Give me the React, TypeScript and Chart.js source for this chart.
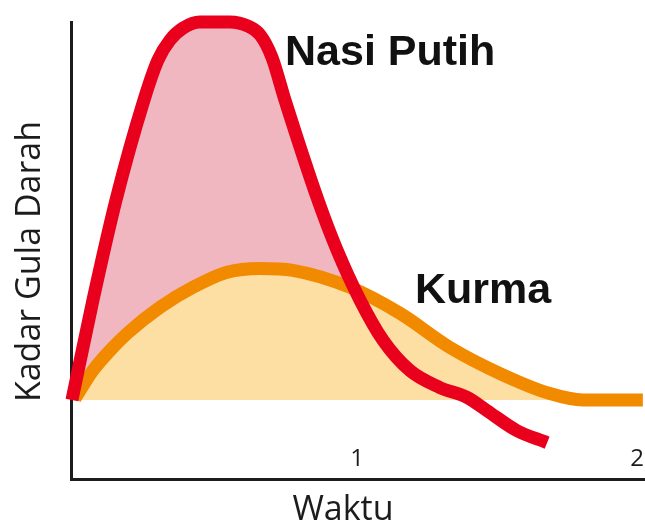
import React, { useEffect, useRef } from "react";
import { Chart, registerables } from "chart.js";

Chart.register(...registerables);

// Time values (hours) and blood sugar levels
const nasiPutihX = [-0.018, 0.057, 0.139, 0.239, 0.289, 0.332, 0.379, 0.439, 0.546, 0.611, 0.654, 0.696, 0.743, 0.861, 0.929, 1.011, 1.093, 1.189, 1.296, 1.393, 1.464, 1.571, 1.679];
const nasiPutihY = [0, 26.4, 52.8, 79.3, 89.9, 95.2, 98.4, 100, 100, 98.9, 96.6, 90.7, 79.3, 52.8, 39.6, 26.4, 15.8, 7.8, 3.3, 0.7, -2.8, -8.1, -11.3];

const kurmaX = [-0.007, 0.057, 0.118, 0.179, 0.296, 0.414, 0.536, 0.654, 0.771, 0.975, 1.154, 1.332, 1.511, 1.689, 1.807, 2.021];
const kurmaY = [0.4, 7.8, 13.1, 17.6, 24.5, 29.8, 33.8, 34.8, 34.3, 29.8, 22.9, 13.9, 7.0, 1.7, 0, 0];

const xTickValues = [1, 2];
const seriesNames = ["Nasi Putih", "Kurma"];
const labelAnchors = [
  { x: 0.743, y: 88.6 },
  { x: 1.207, y: 25.6 },
];
const yTitle = "Kadar Gula Darah";
const xTitle = "Waktu";

const RED = "#e9001c";
const PINK = "#f0b7c0";
const ORANGE = "#f28a00";
const LIGHT_ORANGE = "#fddea3";
const INK = "#1c1c1c";
const FONT = "'Open Sans', sans-serif";

const toPoints = (xs: number[], ys: number[]) => xs.map((x, i) => ({ x, y: ys[i] }));

export default function App() {
  const canvasRef = useRef<HTMLCanvasElement | null>(null);

  useEffect(() => {
    const canvas = canvasRef.current;
    if (!canvas) return;

    const annotations = {
      id: "annotations",
      afterDraw(chart: any) {
        const { ctx, scales, chartArea } = chart;
        const xs = scales.x;
        ctx.save();
        // tick labels, drawn inside the plot just above the x axis
        ctx.fillStyle = INK;
        ctx.font = `24px ${FONT}`;
        ctx.textAlign = "center";
        ctx.textBaseline = "alphabetic";
        xs.ticks.forEach((t: any) => {
          ctx.fillText(String(t.value), xs.getPixelForValue(t.value), xs.top - 13);
        });
        // x axis title
        ctx.font = `34px ${FONT}`;
        ctx.fillText(xTitle, xs.getPixelForValue(0.95), xs.top + 41);
        // y axis title
        ctx.save();
        ctx.translate(40, (chartArea.top + chartArea.bottom) / 2 + 11);
        ctx.rotate(-Math.PI / 2);
        ctx.font = `34px ${FONT}`;
        ctx.textAlign = "center";
        ctx.textBaseline = "alphabetic";
        ctx.fillText(yTitle, 0, 0);
        ctx.restore();
        // series names
        ctx.fillStyle = "#111111";
        ctx.font = "bold 43px 'Liberation Sans', Arial, sans-serif";
        ctx.textAlign = "left";
        ctx.textBaseline = "alphabetic";
        seriesNames.forEach((name, i) => {
          const a = labelAnchors[i];
          ctx.fillText(name, xs.getPixelForValue(a.x), scales.y.getPixelForValue(a.y));
        });
        ctx.restore();
      },
    };

    const chart = new Chart(canvas, {
      type: "line",
      data: {
        datasets: [
          {
            label: seriesNames[0],
            data: toPoints(nasiPutihX, nasiPutihY),
            borderColor: RED,
            borderWidth: 13,
            fill: false,
            pointRadius: 0,
            cubicInterpolationMode: "monotone",
            borderJoinStyle: "round",
            clip: false,
          } as any,
          {
            label: seriesNames[1],
            data: toPoints(kurmaX, kurmaY),
            borderColor: ORANGE,
            borderWidth: 13,
            fill: { target: { value: 0 }, above: LIGHT_ORANGE, below: "rgba(0,0,0,0)" },
            pointRadius: 0,
            cubicInterpolationMode: "monotone",
            borderJoinStyle: "round",
            clip: false,
          } as any,
          {
            label: seriesNames[0] + " area",
            data: toPoints(nasiPutihX, nasiPutihY),
            borderColor: "rgba(0,0,0,0)",
            borderWidth: 0,
            fill: { target: { value: 0 }, above: PINK, below: "rgba(0,0,0,0)" },
            pointRadius: 0,
            cubicInterpolationMode: "monotone",
            clip: false,
          } as any,
        ],
      },
      options: {
        animation: false,
        responsive: false,
        maintainAspectRatio: false,
        layout: { padding: { top: 22, left: 0, right: 0, bottom: 0 } },
        plugins: {
          legend: { display: false },
          tooltip: { enabled: false },
          filler: { drawTime: "beforeDatasetsDraw" },
        } as any,
        scales: {
          x: {
            type: "linear",
            min: -0.0214,
            max: 2.0286,
            grid: { display: false, drawTicks: false },
            border: { display: true, color: INK, width: 3 },
            afterBuildTicks: (axis: any) => {
              axis.ticks = xTickValues.map((v) => ({ value: v }));
            },
            afterFit: (scale: any) => {
              scale.height = 50;
            },
            ticks: { display: false },
            title: { display: false },
          },
          y: {
            type: "linear",
            min: -20.9,
            max: 100,
            grid: { display: false, drawTicks: false },
            border: { display: true, color: INK, width: 3 },
            ticks: { display: false },
            afterFit: (scale: any) => {
              scale.width = 71;
            },
            title: { display: false },
          },
        },
      },
      plugins: [annotations],
    });

    return () => chart.destroy();
  }, []);

  return (
    <div style={{ position: "fixed", left: 0, top: 0, width: 645, height: 529, background: "#ffffff" }}>
      <canvas ref={canvasRef} width={645} height={529} />
    </div>
  );
}
